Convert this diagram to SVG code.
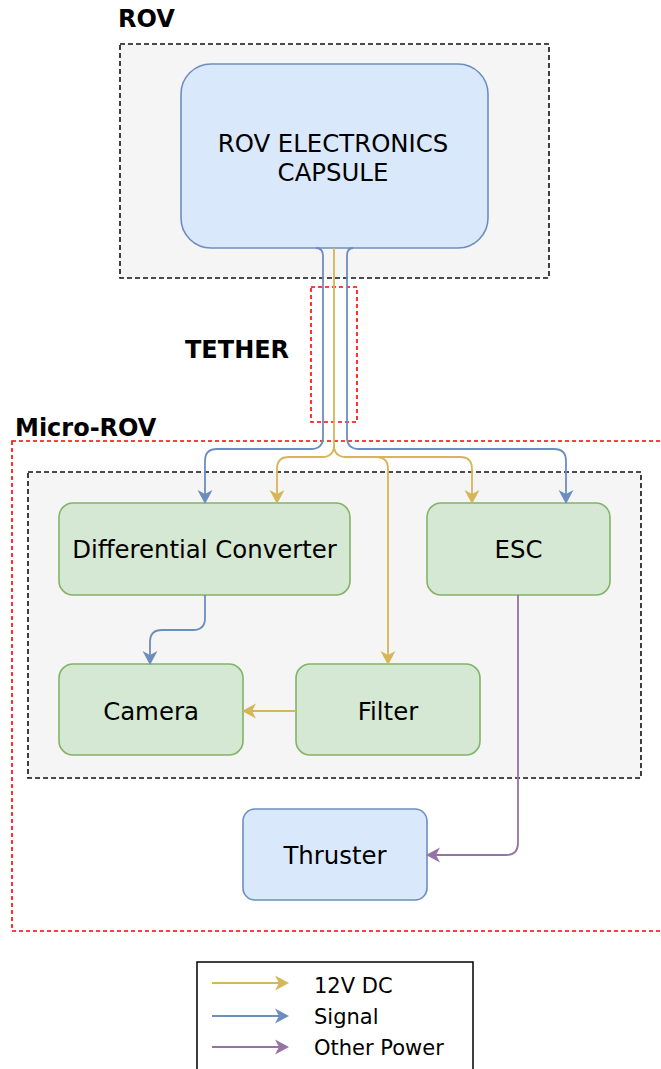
<svg xmlns="http://www.w3.org/2000/svg" width="661" height="1069" viewBox="0 0 661 1069">
<style>
.grp{fill:#f5f5f5;stroke:#111;stroke-width:1.6;stroke-dasharray:5 3}
.red{fill:none;stroke:#ff0000;stroke-width:1.6;stroke-dasharray:4 3}
.green{fill:#d5e8d4;stroke:#82b366;stroke-width:1.6}
.blue{fill:#dae8fc;stroke:#6c8ebf;stroke-width:1.6}
.t{font-family:"DejaVu Sans",Verdana,sans-serif;font-size:24.4px;fill:#000;text-anchor:middle}
.lbl{font-family:"DejaVu Sans",Verdana,sans-serif;font-size:24px;font-weight:bold;fill:#000}
.lg{font-family:"DejaVu Sans",Verdana,sans-serif;font-size:21px;fill:#000}
.e{fill:none;stroke-width:1.8}
.y{stroke:#d6b656}
.b{stroke:#6c8ebf}
.p{stroke:#9673a6}
</style>
<defs>
<marker id="ay" viewBox="0 0 14 16" refX="4" refY="8" markerWidth="14" markerHeight="16" markerUnits="userSpaceOnUse" orient="auto"><path d="M14,8 L0,0.5 L4,8 L0,15.5 Z" fill="#d6b656"/></marker>
<marker id="ab" viewBox="0 0 14 16" refX="4" refY="8" markerWidth="14" markerHeight="16" markerUnits="userSpaceOnUse" orient="auto"><path d="M14,8 L0,0.5 L4,8 L0,15.5 Z" fill="#6c8ebf"/></marker>
<marker id="ap" viewBox="0 0 14 16" refX="4" refY="8" markerWidth="14" markerHeight="16" markerUnits="userSpaceOnUse" orient="auto"><path d="M14,8 L0,0.5 L4,8 L0,15.5 Z" fill="#9673a6"/></marker>
</defs>

<g id="rov-group">
<rect class="grp" x="120" y="44" width="429" height="234"/>
<text class="lbl" x="118" y="27">ROV</text>
</g>
<g id="micro-rov-group">
<rect class="red" x="12" y="441" width="660" height="490"/>
<text class="lbl" x="15" y="436">Micro-ROV</text>
</g>
<g id="micro-rov-inner">
<rect class="grp" x="28" y="472" width="613" height="306"/>
</g>
<g id="tether">
<rect class="red" x="311" y="287" width="46" height="135"/>
<text class="lbl" x="185" y="358">TETHER</text>
</g>

<g id="capsule">
<rect class="blue" x="181" y="64" width="307" height="184" rx="30"/>
<text class="t" x="333" y="152">ROV ELECTRONICS</text>
<text class="t" x="333" y="181">CAPSULE</text>
</g>
<g id="diff-converter">
<rect class="green" x="59" y="503" width="291" height="92" rx="14"/>
<text class="t" x="204.5" y="558">Differential Converter</text>
</g>
<g id="esc">
<rect class="green" x="427" y="503" width="183" height="92" rx="14"/>
<text class="t" x="518.5" y="558">ESC</text>
</g>
<g id="camera">
<rect class="green" x="59" y="664" width="184" height="91" rx="14"/>
<text class="t" x="151" y="720">Camera</text>
</g>
<g id="filter">
<rect class="green" x="296" y="664" width="184" height="91" rx="14"/>
<text class="t" x="388" y="720">Filter</text>
</g>
<g id="thruster">
<rect class="blue" x="243" y="809" width="184" height="91" rx="12"/>
<text class="t" x="335" y="864">Thruster</text>
</g>

<g id="connectors">
<path class="e b" d="M316,248 Q323,248 323,256 L323,437 Q323,449 311,449 L217,449 Q205,449 205,461 L205,494" marker-end="url(#ab)"/>
<path class="e b" d="M353,248 Q347,248 347,256 L347,437 Q347,449 359,449 L554,449 Q566,449 566,461 L566,494" marker-end="url(#ab)"/>
<path class="e y" d="M334,248 L334,445 Q334,457 322,457 L289,457 Q277,457 277,469 L277,494" marker-end="url(#ay)"/>
<path class="e y" d="M334,445 Q334,457 346,457 L376,457 Q388,457 388,469 L388,655" marker-end="url(#ay)"/>
<path class="e y" d="M376,457 L460,457 Q472,457 472,469 L472,494" marker-end="url(#ay)"/>
<path class="e b" d="M205,595 L205,618 Q205,630 193,630 L162,630 Q150,630 150,642 L150,655" marker-end="url(#ab)"/>
<path class="e y" d="M296,711 L252,711" marker-end="url(#ay)"/>
<path class="e p" d="M518,595 L518,843 Q518,855 506,855 L436,855" marker-end="url(#ap)"/>
</g>

<g id="legend">
<rect x="197" y="962" width="276" height="110" fill="#fff" stroke="#000" stroke-width="1.5"/>
<path class="e y" d="M212,983 L279,983" marker-end="url(#ay)"/>
<path class="e b" d="M212,1016 L279,1016" marker-end="url(#ab)"/>
<path class="e p" d="M212,1047 L279,1047" marker-end="url(#ap)"/>
<text class="lg" x="314" y="993">12V DC</text>
<text class="lg" x="314" y="1024">Signal</text>
<text class="lg" x="314" y="1055">Other Power</text>
</g>
</svg>
